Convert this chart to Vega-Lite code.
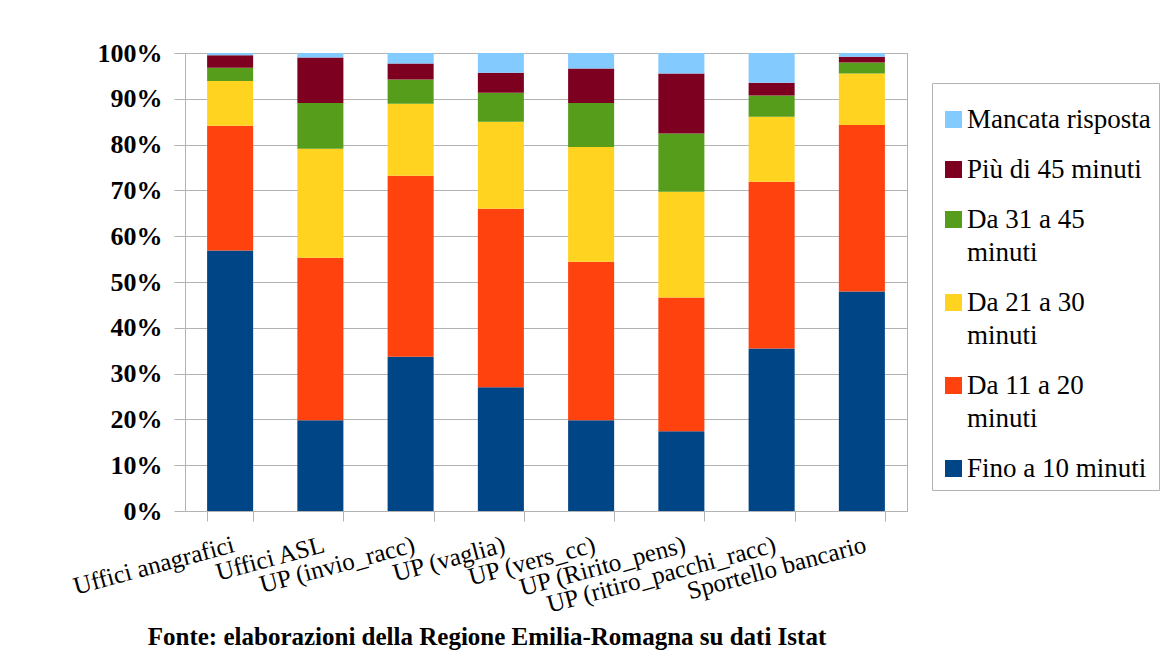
{
  "$schema": "https://vega.github.io/schema/vega-lite/v6.json",
  "width": 722,
  "height": 458,
  "autosize": {"type": "none"},
  "padding": {"left": 185, "top": 53, "right": 258, "bottom": 139},
  "background": "white",
  "title": {
    "text": "Fonte: elaborazioni della Regione Emilia-Romagna su dati Istat",
    "orient": "bottom",
    "anchor": "middle",
    "dx": -59,
    "offset": 8,
    "font": "Liberation Serif",
    "fontSize": 25,
    "fontWeight": "bold",
    "color": "#000000"
  },
  "data": {
    "values": [
      {"servizio": "Uffici anagrafici", "tempo": "Fino a 10 minuti", "k": 1, "pct": 56.9},
      {"servizio": "Uffici anagrafici", "tempo": "Da 11 a 20 minuti", "k": 2, "pct": 27.2},
      {"servizio": "Uffici anagrafici", "tempo": "Da 21 a 30 minuti", "k": 3, "pct": 9.8},
      {"servizio": "Uffici anagrafici", "tempo": "Da 31 a 45 minuti", "k": 4, "pct": 2.9},
      {"servizio": "Uffici anagrafici", "tempo": "Più di 45 minuti", "k": 5, "pct": 2.7},
      {"servizio": "Uffici anagrafici", "tempo": "Mancata risposta", "k": 6, "pct": 0.5},
      {"servizio": "Uffici ASL", "tempo": "Fino a 10 minuti", "k": 1, "pct": 19.8},
      {"servizio": "Uffici ASL", "tempo": "Da 11 a 20 minuti", "k": 2, "pct": 35.5},
      {"servizio": "Uffici ASL", "tempo": "Da 21 a 30 minuti", "k": 3, "pct": 23.8},
      {"servizio": "Uffici ASL", "tempo": "Da 31 a 45 minuti", "k": 4, "pct": 10.0},
      {"servizio": "Uffici ASL", "tempo": "Più di 45 minuti", "k": 5, "pct": 9.9},
      {"servizio": "Uffici ASL", "tempo": "Mancata risposta", "k": 6, "pct": 1.0},
      {"servizio": "UP (invio_racc)", "tempo": "Fino a 10 minuti", "k": 1, "pct": 33.7},
      {"servizio": "UP (invio_racc)", "tempo": "Da 11 a 20 minuti", "k": 2, "pct": 39.5},
      {"servizio": "UP (invio_racc)", "tempo": "Da 21 a 30 minuti", "k": 3, "pct": 15.7},
      {"servizio": "UP (invio_racc)", "tempo": "Da 31 a 45 minuti", "k": 4, "pct": 5.3},
      {"servizio": "UP (invio_racc)", "tempo": "Più di 45 minuti", "k": 5, "pct": 3.5},
      {"servizio": "UP (invio_racc)", "tempo": "Mancata risposta", "k": 6, "pct": 2.3},
      {"servizio": "UP (vaglia)", "tempo": "Fino a 10 minuti", "k": 1, "pct": 27.0},
      {"servizio": "UP (vaglia)", "tempo": "Da 11 a 20 minuti", "k": 2, "pct": 39.0},
      {"servizio": "UP (vaglia)", "tempo": "Da 21 a 30 minuti", "k": 3, "pct": 19.0},
      {"servizio": "UP (vaglia)", "tempo": "Da 31 a 45 minuti", "k": 4, "pct": 6.3},
      {"servizio": "UP (vaglia)", "tempo": "Più di 45 minuti", "k": 5, "pct": 4.4},
      {"servizio": "UP (vaglia)", "tempo": "Mancata risposta", "k": 6, "pct": 4.3},
      {"servizio": "UP (vers_cc)", "tempo": "Fino a 10 minuti", "k": 1, "pct": 19.8},
      {"servizio": "UP (vers_cc)", "tempo": "Da 11 a 20 minuti", "k": 2, "pct": 34.6},
      {"servizio": "UP (vers_cc)", "tempo": "Da 21 a 30 minuti", "k": 3, "pct": 25.1},
      {"servizio": "UP (vers_cc)", "tempo": "Da 31 a 45 minuti", "k": 4, "pct": 9.6},
      {"servizio": "UP (vers_cc)", "tempo": "Più di 45 minuti", "k": 5, "pct": 7.5},
      {"servizio": "UP (vers_cc)", "tempo": "Mancata risposta", "k": 6, "pct": 3.4},
      {"servizio": "UP (Ririto_pens)", "tempo": "Fino a 10 minuti", "k": 1, "pct": 17.4},
      {"servizio": "UP (Ririto_pens)", "tempo": "Da 11 a 20 minuti", "k": 2, "pct": 29.2},
      {"servizio": "UP (Ririto_pens)", "tempo": "Da 21 a 30 minuti", "k": 3, "pct": 23.1},
      {"servizio": "UP (Ririto_pens)", "tempo": "Da 31 a 45 minuti", "k": 4, "pct": 12.7},
      {"servizio": "UP (Ririto_pens)", "tempo": "Più di 45 minuti", "k": 5, "pct": 13.1},
      {"servizio": "UP (Ririto_pens)", "tempo": "Mancata risposta", "k": 6, "pct": 4.5},
      {"servizio": "UP (ritiro_pacchi_racc)", "tempo": "Fino a 10 minuti", "k": 1, "pct": 35.5},
      {"servizio": "UP (ritiro_pacchi_racc)", "tempo": "Da 11 a 20 minuti", "k": 2, "pct": 36.4},
      {"servizio": "UP (ritiro_pacchi_racc)", "tempo": "Da 21 a 30 minuti", "k": 3, "pct": 14.2},
      {"servizio": "UP (ritiro_pacchi_racc)", "tempo": "Da 31 a 45 minuti", "k": 4, "pct": 4.6},
      {"servizio": "UP (ritiro_pacchi_racc)", "tempo": "Più di 45 minuti", "k": 5, "pct": 2.8},
      {"servizio": "UP (ritiro_pacchi_racc)", "tempo": "Mancata risposta", "k": 6, "pct": 6.5},
      {"servizio": "Sportello bancario", "tempo": "Fino a 10 minuti", "k": 1, "pct": 47.9},
      {"servizio": "Sportello bancario", "tempo": "Da 11 a 20 minuti", "k": 2, "pct": 36.4},
      {"servizio": "Sportello bancario", "tempo": "Da 21 a 30 minuti", "k": 3, "pct": 11.2},
      {"servizio": "Sportello bancario", "tempo": "Da 31 a 45 minuti", "k": 4, "pct": 2.4},
      {"servizio": "Sportello bancario", "tempo": "Più di 45 minuti", "k": 5, "pct": 1.3},
      {"servizio": "Sportello bancario", "tempo": "Mancata risposta", "k": 6, "pct": 0.8}
    ]
  },
  "mark": {"type": "bar", "strokeWidth": 0},
  "encoding": {
    "x": {
      "field": "servizio",
      "type": "nominal",
      "sort": null,
      "scale": {"paddingInner": 0.49, "paddingOuter": 0.245},
      "axis": {
        "title": null,
        "labelAngle": -15,
        "labelAlign": "right",
        "labelBaseline": "top",
        "labelFont": "Liberation Serif",
        "labelFontSize": 25,
        "labelColor": "#000000",
        "labelPadding": 11,
        "labelLimit": 500,
        "labelOverlap": false,
        "tickSize": 10,
        "tickBand": "extent",
        "tickColor": "#b3b3b3",
        "domainColor": "#b3b3b3",
        "grid": false
      }
    },
    "y": {
      "field": "pct",
      "type": "quantitative",
      "stack": "normalize",
      "scale": {"domain": [0, 1], "nice": false},
      "axis": {
        "title": null,
        "values": [0, 0.1, 0.2, 0.3, 0.4, 0.5, 0.6, 0.7, 0.8, 0.9, 1],
        "format": ".0%",
        "labelFont": "Liberation Serif",
        "labelFontSize": 26,
        "labelFontWeight": "bold",
        "labelColor": "#000000",
        "labelPadding": 12,
        "tickSize": 11,
        "tickColor": "#b3b3b3",
        "domainColor": "#b3b3b3",
        "grid": true,
        "gridColor": "#b3b3b3",
        "gridWidth": 1
      }
    },
    "color": {
      "field": "tempo",
      "type": "nominal",
      "scale": {
        "domain": ["Mancata risposta", "Più di 45 minuti", "Da 31 a 45 minuti", "Da 21 a 30 minuti", "Da 11 a 20 minuti", "Fino a 10 minuti"],
        "range": ["#83caff", "#7e0021", "#579d1c", "#ffd320", "#ff420e", "#004586"]
      },
      "legend": {
        "orient": "none",
        "legendX": 747,
        "legendY": 30,
        "title": " ",
        "titleFontSize": 10,
        "titlePadding": 5,
        "padding": 8,
        "strokeColor": "#b3b3b3",
        "fillColor": "#ffffff",
        "symbolType": "square",
        "symbolSize": 289,
        "symbolStrokeWidth": 0,
        "labelFont": "Liberation Serif",
        "labelFontSize": 27,
        "labelColor": "#000000",
        "labelOffset": 0,
        "labelLimit": 400,
        "rowPadding": 22,
        "labelExpr": "indexof(datum.label, 'Da ') == 0 ? [substring(datum.label, 0, 10), 'minuti'] : datum.label"
      }
    },
    "order": {"field": "k", "type": "quantitative", "sort": "ascending"}
  },
  "config": {
    "view": {"stroke": "#b3b3b3", "strokeWidth": 1},
    "style": {"guide-label": {"font": "Liberation Serif", "lineHeight": 33}}
  }
}
